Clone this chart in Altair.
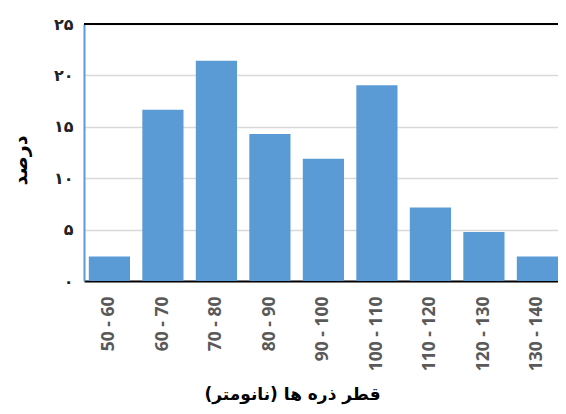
import altair as alt
import pandas as pd

categories = ["50 - 60", "60 - 70", "70 - 80", "80 - 90", "90 - 100",
              "100 - 110", "110 - 120", "120 - 130", "130 - 140"]
percent = [2.38, 16.67, 21.43, 14.29, 11.90, 19.05, 7.14, 4.76, 2.38]
y_ticks = [0, 5, 10, 15, 20, 25]
y_tick_labels = ["۰", "۵", "۱۰", "۱۵", "۲۰", "۲۵"]
x_title = "قطر ذره ها (نانومتر)"
y_title = "درصد"

df = pd.DataFrame({"cat": categories, "pct": percent})

label_expr = " : ".join(
    f"datum.value == {v} ? '{s}'" for v, s in zip(y_ticks, y_tick_labels)
) + " : ''"

bars = alt.Chart(df).mark_bar(color="#5B9BD5").encode(
    x=alt.X("cat:N", sort=categories,
            scale=alt.Scale(paddingInner=0.23, paddingOuter=0.045, align=1),
            axis=alt.Axis(title=x_title, labelAngle=270, labelFont="Open Sans",
                          labelFontWeight="bold", labelFontSize=17.5,
                          labelColor="#595959", labelPadding=15, ticks=False,
                          domainColor="black", domainWidth=2,
                          titleFont="DejaVu Sans", titleFontWeight="bold",
                          titleFontSize=17, titleColor="black",
                          titleX=208, titleAlign="center",
                          titleY=113, titleBaseline="middle")),
    y=alt.Y("pct:Q", scale=alt.Scale(domain=[0, 25], nice=False),
            axis=alt.Axis(title=y_title, values=y_ticks, labelExpr=label_expr,
                          labelFont="DejaVu Sans", labelFontWeight="bold",
                          labelFontSize=16, labelColor="#222222",
                          labelPadding=11, ticks=False,
                          domainColor="#5B9BD5", domainWidth=2,
                          gridColor="#d9d9d9", gridWidth=1.5,
                          titleFont="DejaVu Sans", titleFontWeight="bold",
                          titleFontSize=19, titleColor="black",
                          titleX=-64, titleY=136, titleAlign="center",
                          titleBaseline="middle")),
)

top = alt.Chart(pd.DataFrame({"v": [25]})).mark_rule(
    color="black", strokeWidth=2).encode(y="v:Q")

chart = alt.layer(bars, top).properties(
    width=474, height=257,
    autosize=alt.AutoSizeParams(type="none"),
    padding={"left": 76, "top": 16, "right": 0, "bottom": 124},
).configure_view(stroke=None)

chart.save("out.html", embed_options={"renderer": "svg", "actions": False})
